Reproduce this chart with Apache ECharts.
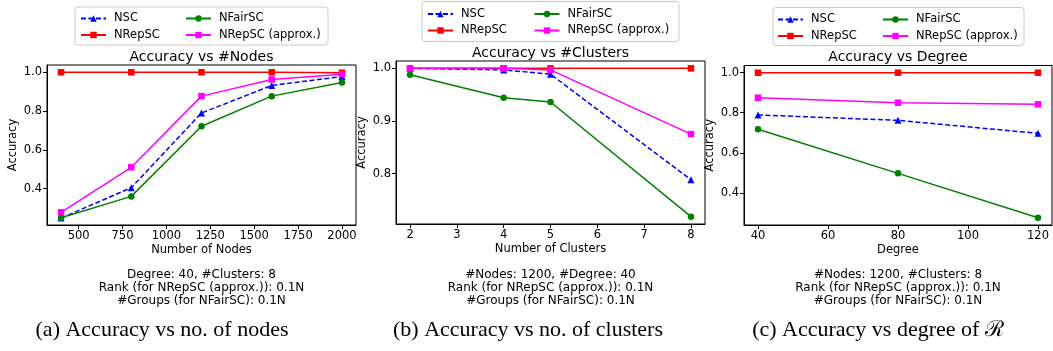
<!DOCTYPE html>
<html><head><meta charset="utf-8">
<script src="https://cdn.jsdelivr.net/npm/echarts@6/dist/echarts.min.js"></script>
<style>html,body{margin:0;padding:0;background:#fff}#c{width:1053px;height:351px}</style>
</head><body><div id="c"></div>
<script>
// ---------- data ----------
const seriesNames = ['NSC', 'NRepSC', 'NFairSC', 'NRepSC (approx.)'];

const nodesX = [400, 800, 1200, 1600, 2000];
const nodesNSC = [0.248, 0.405, 0.79, 0.932, 0.978];
const nodesNRepSC = [1.0, 1.0, 1.0, 1.0, 0.998];
const nodesNFairSC = [0.25, 0.36, 0.722, 0.877, 0.947];
const nodesApprox = [0.278, 0.51, 0.877, 0.963, 0.99];
const nodesXTicks = [500, 750, 1000, 1250, 1500, 1750, 2000];
const nodesYTicks = [0.4, 0.6, 0.8, 1.0];

const clustersX = [2, 4, 5, 8];
const clustersNSC = [1.0, 0.997, 0.989, 0.788];
const clustersNRepSC = [1.0, 1.0, 1.0, 1.0];
const clustersNFairSC = [0.988, 0.944, 0.936, 0.718];
const clustersApprox = [1.0, 1.0, 0.997, 0.875];
const clustersXTicks = [2, 3, 4, 5, 6, 7, 8];
const clustersYTicks = [0.8, 0.9, 1.0];

const degreeX = [40, 80, 120];
const degreeNSC = [0.789, 0.762, 0.697];
const degreeNRepSC = [1.0, 1.0, 1.0];
const degreeNFairSC = [0.717, 0.497, 0.275];
const degreeApprox = [0.875, 0.85, 0.842];
const degreeXTicks = [40, 60, 80, 100, 120];
const degreeYTicks = [0.4, 0.6, 0.8, 1.0];

const panelTitles = ['Accuracy vs #Nodes', 'Accuracy vs #Clusters', 'Accuracy vs Degree'];
const xAxisNames = ['Number of Nodes', 'Number of Clusters', 'Degree'];
const yAxisName = 'Accuracy';
const captions = [
  ['Degree: 40, #Clusters: 8', 'Rank (for NRepSC (approx.)): 0.1N', '#Groups (for NFairSC): 0.1N'],
  ['#Nodes: 1200, #Degree: 40', 'Rank (for NRepSC (approx.)): 0.1N', '#Groups (for NFairSC): 0.1N'],
  ['#Nodes: 1200, #Clusters: 8', 'Rank (for NRepSC (approx.)): 0.1N', '#Groups (for NFairSC): 0.1N']
];
const subCaptions = ['(a) Accuracy vs no. of nodes', '(b) Accuracy vs no. of clusters', '(c) Accuracy vs degree of \u211B'];

// ---------- layout / style ----------
const FONT = 'DejaVu Sans';
const styles = {
  'NSC': {color: '#0000ff', symbol: 'triangle', size: 7, dash: [5, 2.5]},
  'NRepSC': {color: '#ff0000', symbol: 'rect', size: 6.5, dash: 'solid'},
  'NFairSC': {color: '#008000', symbol: 'circle', size: 6.5, dash: 'solid'},
  'NRepSC (approx.)': {color: '#ff00ff', symbol: 'rect', size: 6.5, dash: 'solid'}
};
const panels = [
  {x: nodesX, ys: [nodesNSC, nodesNRepSC, nodesNFairSC, nodesApprox], xt: nodesXTicks, yt: nodesYTicks,
   xmin: 320, xmax: 2080, ymin: 0.2125, ymax: 1.0375,
   grid: {left: 47, top: 65, width: 309, height: 160},
   legend: {box: [75, 7, 253, 38], c1: 80, c2: 185, top: 12.5}},
  {x: clustersX, ys: [clustersNSC, clustersNRepSC, clustersNFairSC, clustersApprox], xt: clustersXTicks, yt: clustersYTicks,
   xmin: 1.7, xmax: 8.3, ymin: 0.704, ymax: 1.014,
   grid: {left: 396, top: 61, width: 309, height: 163},
   legend: {box: [422, 1.5, 257, 40], c1: 427, c2: 533.5, top: 8}},
  {x: degreeX, ys: [degreeNSC, degreeNRepSC, degreeNFairSC, degreeApprox], xt: degreeXTicks, yt: degreeYTicks,
   xmin: 36, xmax: 124, ymin: 0.239, ymax: 1.036,
   grid: {left: 744, top: 65.5, width: 308, height: 159.5},
   legend: {box: [773, 7.5, 251, 38], c1: 777, c2: 882, top: 13.5}}
];

const option = {animation: false, backgroundColor: '#fff', grid: [], xAxis: [], yAxis: [], series: [], legend: [], graphic: []};
const txt = {color: '#000', fontFamily: FONT, fontSize: 11.5};

panels.forEach((p, i) => {
  option.grid.push(Object.assign({show: true, borderColor: '#000', borderWidth: 1, containLabel: false}, p.grid));
  option.xAxis.push({
    type: 'value', gridIndex: i, min: p.xmin, max: p.xmax,
    name: xAxisNames[i], nameLocation: 'middle', nameGap: 19, nameTextStyle: txt,
    axisLine: {show: true, onZero: false, lineStyle: {color: '#000', width: 1}},
    axisTick: {show: true, length: 4, lineStyle: {color: '#000'}, customValues: p.xt},
    axisLabel: Object.assign({margin: 5, customValues: p.xt, formatter: v => String(v)}, txt),
    splitLine: {show: false}
  });
  option.yAxis.push({
    type: 'value', gridIndex: i, min: p.ymin, max: p.ymax,
    name: yAxisName, nameLocation: 'middle', nameGap: 28, nameRotate: 90, nameTextStyle: txt,
    axisLine: {show: true, onZero: false, lineStyle: {color: '#000', width: 1}},
    axisTick: {show: true, length: 4, lineStyle: {color: '#000'}, customValues: p.yt},
    axisLabel: Object.assign({margin: 5, customValues: p.yt, formatter: v => v.toFixed(1)}, txt),
    splitLine: {show: false}
  });
  seriesNames.forEach((n, k) => {
    const s = styles[n];
    option.series.push({
      type: 'line', name: n, xAxisIndex: i, yAxisIndex: i,
      data: p.x.map((xv, j) => [xv, p.ys[k][j]]),
      symbol: s.symbol, symbolSize: s.size, showSymbol: true,
      lineStyle: {color: s.color, width: 1.5, type: s.dash},
      itemStyle: {color: s.color, borderWidth: 0},
      z: 2 + k
    });
  });
  const L = p.legend;
  option.graphic.push({type: 'rect', shape: {x: L.box[0], y: L.box[1], width: L.box[2], height: L.box[3], r: 3},
    style: {fill: '#fff', stroke: '#cccccc', lineWidth: 1}, z: 0});
  [[L.c1, ['NSC', 'NRepSC']], [L.c2, ['NFairSC', 'NRepSC (approx.)']]].forEach(([lx, names]) => {
    option.legend.push({
      orient: 'vertical', left: lx, top: L.top, itemWidth: 25, itemHeight: 8, itemGap: 4.5,
      padding: 0, data: names, selectedMode: false,
      textStyle: Object.assign({padding: [0, 0, 0, 3]}, txt), z: 5
    });
  });
  const cx = p.grid.left + p.grid.width / 2;
  option.graphic.push({type: 'text', x: cx, y: p.grid.top - 8,
    style: {text: panelTitles[i], fill: '#000', font: '14px "DejaVu Sans"', align: 'center', verticalAlign: 'middle'}});
  captions[i].forEach((c, j) => {
    option.graphic.push({type: 'text', x: cx, y: 275 + j * 13,
      style: {text: c, fill: '#000', font: '12px "DejaVu Sans"', align: 'center', verticalAlign: 'middle'}});
  });
});
const subX = [162, 528, 878];
subCaptions.forEach((s, i) => {
  option.graphic.push({type: 'text', x: subX[i], y: 330,
    style: {text: s, fill: '#000', font: '22px "Liberation Serif", "DejaVu Serif"', align: 'center', verticalAlign: 'middle'}});
});

const chart = echarts.init(document.getElementById('c'), null, {renderer: 'canvas'});
chart.setOption(option);
</script>
</body></html>
